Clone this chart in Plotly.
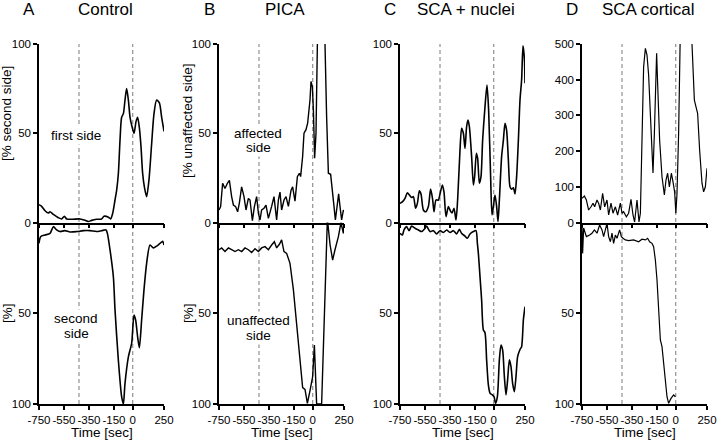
import plotly.graph_objects as go

# ---------------- data (time in sec, value in %) ----------------
a_up_t = [-750,-729,-702,-675,-662,-635,-595,-569,-547,-529,-489,-422,-382,-355,-329,-289,-249,-230,-195,-177,-161,-142,-129,-115,-102,-89,-75,-62,-49,-35,-22,-9,10,26,39,53,66,79,93,111,130,151,170,191,213,231,250]
a_up_v = [10,9,6.6,5.3,6,4.5,2.7,2,3.5,2,1.8,2,1.3,0.5,1.2,1.8,2,3.5,3,2,5,12.6,18,27.6,46,59,61,68.6,75,68.6,59,54.6,50,56.5,59,53,42.5,27.6,20,14.5,24,44,61,68.6,67,59,51]

a_lo_t = [-750,-737,-702,-662,-635,-609,-582,-542,-502,-449,-395,-342,-289,-249,-214,-203,-182,-155,-142,-115,-89,-75,-62,-35,-9,10,23,39,53,71,90,111,138,165,191,218,239,250]
a_lo_v = [11.5,7.8,6.9,6,2.3,4.1,5,4.5,5.2,5,4.5,4.5,5,4.5,4.1,6,15,30,48,76,96,100,88.6,74,66.6,51,53.7,63,69,53.7,37,22.5,12.4,14,13,11.5,10.4,12.4]

b_up_t = [-750,-737,-721,-702,-683,-667,-649,-635,-617,-601,-587,-569,-550,-534,-515,-502,-483,-467,-449,-435,-422,-409,-390,-374,-355,-342,-329,-310,-289,-275,-262,-249,-230,-214,-195,-174,-161,-142,-123,-107,-97,-81,-70,-54,-41,-22,-14,-3,5,15,26,37,42,69,93,98,111,125,143,159,170,181,197,207,218,231,245,250]
b_up_v = [7,8.9,22,19,22,23.6,14.5,9.8,8.9,6,11,20,14.5,7,13.5,12.6,1,8.9,14.5,5.3,1.4,7,8,9.8,2.3,5,9,14.5,1.4,12.6,17,7,12.6,14.5,9,18,20,12,25.7,27.6,25.7,37,50,52,55.6,68.6,79,76,63,36,50,100,140,250,140,100,59,27.6,27,18,9,1.4,12.6,16,9,1.4,7,6]

b_lo_t = [-750,-729,-702,-675,-649,-622,-595,-569,-542,-515,-489,-462,-435,-409,-382,-355,-329,-307,-289,-267,-249,-230,-209,-182,-155,-129,-102,-81,-62,-43,-22,-1,13,31,71,117,138,159,178,205,226,245,250]
b_lo_v = [15,14,16,14,15,16,15,16,14,15,16.5,14.5,16,14,13.3,15,12.4,10.6,14,12,9.6,16,17,22.5,37,57,79.4,91,92,99.6,92.6,85,67.5,100,100,-2,12,20.7,15,7.8,0,6,1]

c_up_t = [-750,-729,-710,-691,-675,-657,-643,-625,-611,-595,-582,-563,-545,-523,-505,-489,-478,-462,-443,-430,-411,-398,-382,-363,-350,-334,-318,-302,-289,-270,-257,-243,-230,-217,-206,-195,-177,-163,-153,-139,-129,-115,-102,-89,-70,-54,-41,-25,-14,-3,10,23,34,45,63,77,90,103,117,130,143,157,170,183,197,210,223,234,245,250]
c_up_v = [10.7,11.7,13.5,16.7,15.4,14,14.5,8,10.7,17.8,16,7,6,9,18.7,13,6,12.6,12.6,16,21,17,3.3,9,7,5.3,8,1.4,12.6,40.6,52.8,50,41.5,53.7,57.4,53.7,36.9,21,25.7,38.8,36,22,25.7,46,64.9,77,63,25.7,4.2,8.9,15.4,9,0.5,12.6,36.9,46,55.6,51.6,35,20,18.7,19.4,16,25.7,46,68.6,80,99,92,78]

c_lo_t = [-750,-731,-718,-697,-678,-657,-630,-603,-577,-550,-537,-510,-483,-457,-430,-403,-377,-350,-323,-297,-275,-257,-230,-211,-190,-163,-142,-131,-123,-110,-97,-83,-70,-57,-43,-30,-11,2,15,29,45,58,71,85,98,111,125,138,151,165,178,191,210,223,237,250]
c_lo_v = [6,6.9,4.1,2.3,4.5,2,3.2,4.1,5,3.2,2,5,4.5,6.3,4.5,5.5,4.1,5.5,4.5,6.3,3.8,6,7.5,8.7,6.3,5,4.5,11.5,17,29.8,42.7,59.2,60.7,75.7,89.5,94,95,96,99.6,96,75.7,67.5,70.2,84.9,95,86.7,75.7,79.4,88.6,93.2,84.9,73.9,70,68.4,53.7,46.4]

d_up_t = [-750,-731,-715,-697,-678,-662,-649,-630,-617,-603,-585,-569,-550,-537,-518,-502,-483,-465,-443,-430,-417,-395,-377,-358,-342,-329,-310,-294,-283,-270,-257,-243,-230,-217,-203,-190,-182,-171,-161,-153,-145,-129,-110,-91,-78,-65,-51,-35,-22,-9,1,10,23,31,37,82,130,138,149,162,175,191,210,223,237,250]
d_up_v = [68,74,63,35,44,54,44,63,54,35,82,44,63,21,54,26,44,21,54,26,30,16,26,65,21,1.4,63,1.4,26,203,436,488,469,413,315,194,139,250,390,474,390,231,128,77,119,138,100,138,114,86,26,81,250,390,511,1500,500,436,343,324,306,203,110,86,100,152]

d_lo_t = [-750,-745,-737,-715,-689,-670,-651,-630,-609,-590,-577,-563,-550,-537,-523,-510,-497,-483,-470,-449,-435,-422,-403,-377,-337,-297,-270,-243,-225,-209,-190,-177,-163,-150,-137,-123,-110,-97,-83,-70,-57,-38,-17,-3]
d_lo_v = [2,17,3,7.8,6.9,5.9,4.1,5.9,1.4,4.1,7.8,4.1,0.5,7.8,10.6,5.9,11.5,6.9,8.7,4.1,7.8,8.7,9.6,10,9.6,10.6,9.2,9.6,8.7,10.6,11.5,13.3,20.7,31.7,48.2,64.7,68.4,77.6,88.6,96,99.6,96.9,95,96]

x_tickvals = [-750, -550, -350, -150, 0, 250]
x_ticktext = ["-750", "-550", "-350", "-150", "0", "250"]
dash_times = [-430, 0]

panel_letters = ["A", "B", "C", "D"]
panel_titles = ["Control", "PICA", "SCA + nuclei", "SCA cortical"]

# ---------------- layout geometry ----------------
W, H = 720, 442
def px(x): return x / W
def py(y): return 1 - y / H

FONT = "Arial, Liberation Sans, sans-serif"
left_px = [39, 219, 400, 582]
PW = 125
TOP, MID, BOT = 44, 222.5, 404

panels = [
    (a_up_t, a_up_v, a_lo_t, a_lo_v, 100, "spline", 1.6),
    (b_up_t, b_up_v, b_lo_t, b_lo_v, 100, "linear", 1.4),
    (c_up_t, c_up_v, c_lo_t, c_lo_v, 100, "spline", 1.6),
    (d_up_t, d_up_v, d_lo_t, d_lo_v, 500, "linear", 1.2),
]

fig = go.Figure()
layout = dict(width=W, height=H, margin=dict(l=0, r=0, t=0, b=0, autoexpand=False),
              paper_bgcolor="white", plot_bgcolor="rgba(0,0,0,0)",
              showlegend=False, font=dict(family=FONT, color="black", size=11))
shapes = []
annotations = []

axis_common = dict(showline=True, linecolor="black", linewidth=1.5, ticks="outside",
                   ticklen=4, tickwidth=1.5, tickcolor="black", showgrid=False,
                   zeroline=False, automargin=False, tickangle=0,
                   tickfont=dict(family=FONT, size=11.5, color="black"))

for i, (ut, uv, lt, lv, umax, shape, lw) in enumerate(panels):
    ku, kl = 2 * i + 1, 2 * i + 2
    dom = [px(left_px[i]), px(left_px[i] + PW)]
    sfx_u = "" if ku == 1 else str(ku)
    sfx_l = str(kl)
    fig.add_trace(go.Scatter(x=ut, y=uv, mode="lines", xaxis="x" + sfx_u, yaxis="y" + sfx_u,
                             line=dict(color="black", width=lw, shape=shape, smoothing=0.7),
                             hoverinfo="skip"))
    fig.add_trace(go.Scatter(x=lt, y=lv, mode="lines", xaxis="x" + sfx_l, yaxis="y" + sfx_l,
                             line=dict(color="black", width=lw, shape=shape, smoothing=0.7),
                             hoverinfo="skip"))
    layout["xaxis" + sfx_u] = dict(axis_common, domain=dom, range=[-750, 250], anchor="y" + sfx_u,
                                   tickvals=x_tickvals, showticklabels=False)
    layout["xaxis" + sfx_l] = dict(axis_common, domain=dom, range=[-750, 250], anchor="y" + sfx_l,
                                   tickvals=x_tickvals, ticktext=x_ticktext)
    if umax == 100:
        uticks = [0, 50, 100]
    else:
        uticks = [0, 100, 200, 300, 400, 500]
    layout["yaxis" + sfx_u] = dict(axis_common, domain=[py(MID), py(TOP)], range=[0, umax],
                                   anchor="x" + sfx_u, tickvals=uticks)
    layout["yaxis" + sfx_l] = dict(axis_common, domain=[py(BOT), py(MID)], range=[100, 0],
                                   anchor="x" + sfx_l, tickvals=[50, 100])
    for t in dash_times:
        shapes.append(dict(type="line", xref="x" + sfx_u, yref="paper", x0=t, x1=t,
                           y0=py(BOT), y1=py(TOP), layer="below",
                           line=dict(color="#7a7a7a", width=1, dash="4px,3px")))
    # panel letter and title
    annotations.append(dict(text=panel_letters[i], x=px(left_px[i] - 10), y=py(9), xref="paper",
                            yref="paper", showarrow=False, xanchor="center", yanchor="middle",
                            font=dict(family=FONT, size=17, color="black")))
    annotations.append(dict(text=panel_titles[i], x=px(left_px[i] + 66), y=py(9), xref="paper",
                            yref="paper", showarrow=False, xanchor="center", yanchor="middle",
                            font=dict(family=FONT, size=17, color="black")))
    annotations.append(dict(text="Time [sec]", x=px(left_px[i] + PW / 2), y=py(432), xref="paper",
                            yref="paper", showarrow=False, xanchor="center", yanchor="middle",
                            font=dict(family=FONT, size=13.5, color="black")))

def label(text, x, y, size=13.5, angle=0, bg=None):
    d = dict(text=text, x=px(x), y=py(y), xref="paper", yref="paper", showarrow=False,
             xanchor="center", yanchor="middle", textangle=angle,
             font=dict(family=FONT, size=size, color="black"))
    if bg:
        d.update(bgcolor=bg, borderpad=1)
    annotations.append(d)

label("[% second side]", 7, 114, angle=-90)
label("[%]", 7, 313, angle=-90)
label("[% unaffected side]", 187, 121, angle=-90)
label("[%]", 188, 313, angle=-90)

label("first side", 76, 135, bg="white")
label("second", 76, 318, bg="white")
label("side", 76, 333, bg="white")
label("affected", 258, 133, bg="white")
label("side", 258, 148, bg="white")
label("unaffected", 258, 320, bg="white")
label("side", 258, 335, bg="white")

layout["shapes"] = shapes
layout["annotations"] = annotations
fig.update_layout(**layout)
fig.write_html("out.html", config={"displayModeBar": False},
               post_script="document.body.style.margin='0';document.body.style.padding='0';")
